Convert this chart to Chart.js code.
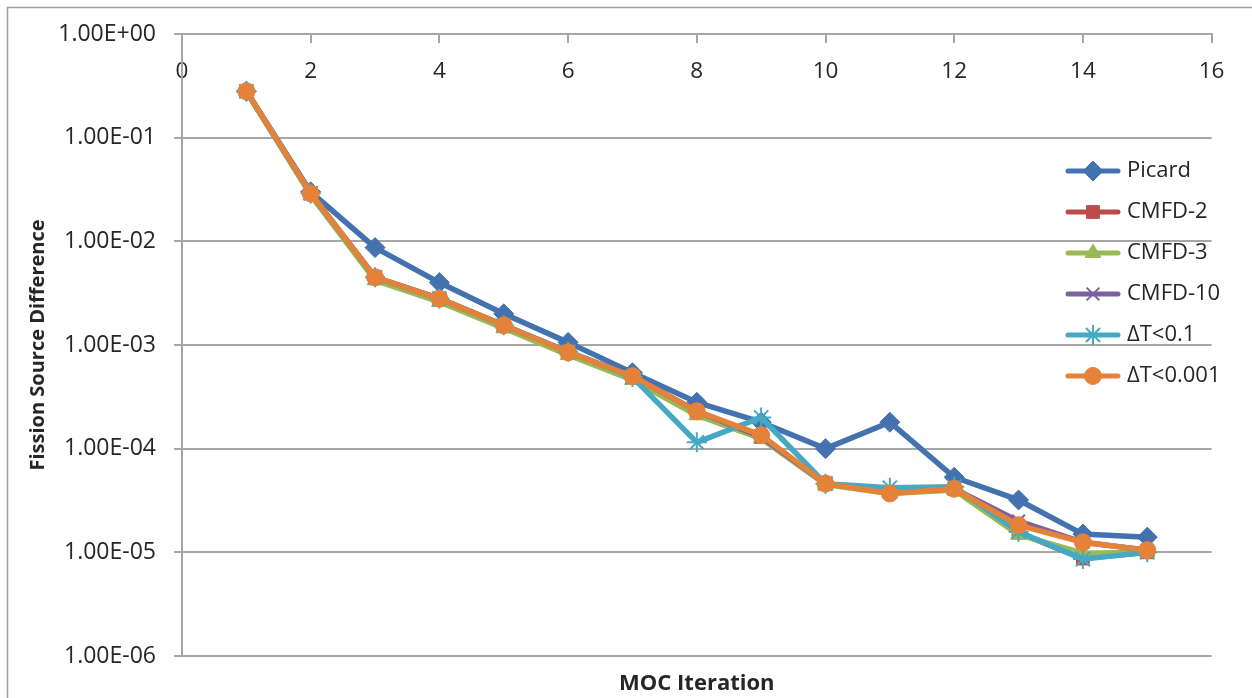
<!DOCTYPE html>
<html>
<head>
<meta charset="utf-8">
<script src="https://cdn.jsdelivr.net/npm/chart.js@4.4.1/dist/chart.umd.min.js"></script>
<style>
  html, body { margin: 0; padding: 0; background: #ffffff; }
  canvas { display: block; }
</style>
</head>
<body>
<canvas id="chart" width="1252" height="698"></canvas>
<script>
// MOC iteration numbers (x values)
const iterations = [1, 2, 3, 4, 5, 6, 7, 8, 9, 10, 11, 12, 13, 14, 15];

// Fission source difference per iteration, one array per method
const picard   = [0.28, 0.030, 0.0087, 0.0040, 0.0020, 0.00106, 0.00054, 0.00028, 0.00018, 0.00010, 0.00018, 5.3e-5, 3.2e-5, 1.5e-5, 1.4e-5];
const cmfd2    = [0.28, 0.029, 0.0045, 0.0028, 0.00155, 0.00085, 0.00049, 0.00022, 0.00013, 4.6e-5, 3.8e-5, 4.1e-5, 1.55e-5, 8.7e-6, 1.0e-5];
const cmfd3    = [0.28, 0.028, 0.0042, 0.0026, 0.00145, 0.00080, 0.00046, 0.00021, 0.000125, 4.5e-5, 3.7e-5, 4.0e-5, 1.48e-5, 9.8e-6, 1.0e-5];
const cmfd10   = [0.28, 0.029, 0.0045, 0.0028, 0.00155, 0.00086, 0.00050, 0.00023, 0.00013, 4.6e-5, 3.8e-5, 4.1e-5, 2.0e-5, 1.25e-5, 1.05e-5];
const dt01     = [0.28, 0.029, 0.0045, 0.0028, 0.00155, 0.00086, 0.00049, 0.000115, 0.00020, 4.6e-5, 4.2e-5, 4.3e-5, 1.58e-5, 8.6e-6, 1.0e-5];
const dt0001   = [0.28, 0.029, 0.0045, 0.0028, 0.00155, 0.00085, 0.00050, 0.00023, 0.000135, 4.6e-5, 3.7e-5, 4.1e-5, 1.83e-5, 1.25e-5, 1.05e-5];

const seriesNames  = ['Picard', 'CMFD-2', 'CMFD-3', 'CMFD-10', 'ΔT<0.1', 'ΔT<0.001'];
const seriesValues = [picard, cmfd2, cmfd3, cmfd10, dt01, dt0001];

// Axis ticks
const yTickValues = [1, 1e-1, 1e-2, 1e-3, 1e-4, 1e-5, 1e-6];
const xMin = 0, xMax = 16, xStep = 2;

// Series appearance
const seriesColors = ['#4472AE', '#BE4B48', '#98B954', '#7D60A0', '#46A9C4', '#E5823A'];
const seriesMarkers = [
  { pointStyle: 'rectRot',  radius: 10, borderWidth: 1 },
  { pointStyle: 'rect',     radius: 9,  borderWidth: 1 },
  { pointStyle: 'triangle', radius: 9,  borderWidth: 1 },
  { pointStyle: 'crossRot', radius: 9,  borderWidth: 2 },
  { pointStyle: 'star',     radius: 10, borderWidth: 2 },
  { pointStyle: 'circle',   radius: 8.5, borderWidth: 1 }
];

const gridColor = '#a6a6a6';
const textColor = '#262626';
Chart.defaults.font.family = "'Open Sans', 'Liberation Sans', sans-serif";

function sciLabel(v) {
  const e = Math.round(Math.log10(v));
  const m = v / Math.pow(10, e);
  return m.toFixed(2) + 'E' + (e < 0 ? '-' : '+') + String(Math.abs(e)).padStart(2, '0');
}

// Legend icons: a short line with the series marker in the middle
function makeLegendIcon(color, marker) {
  const c = document.createElement('canvas');
  c.width = 56; c.height = 24;
  const g = c.getContext('2d');
  g.strokeStyle = color; g.fillStyle = color;
  g.lineWidth = 5; g.lineCap = 'round';
  g.beginPath(); g.moveTo(3, 12); g.lineTo(53, 12); g.stroke();
  g.lineWidth = marker.borderWidth;
  g.lineCap = 'butt';
  Chart.helpers.drawPoint(g, { pointStyle: marker.pointStyle, radius: marker.radius, rotation: 0, borderWidth: marker.borderWidth }, 28, 12);
  return c;
}
const legendIcons = seriesColors.map((c, i) => makeLegendIcon(c, seriesMarkers[i]));

const datasets = seriesNames.map((name, i) => ({
  label: name,
  data: iterations.map((x, k) => ({ x: x, y: seriesValues[i][k] })),
  borderColor: seriesColors[i],
  backgroundColor: seriesColors[i],
  borderWidth: 5.5,
  borderJoinStyle: 'round',
  borderCapStyle: 'round',
  tension: 0,
  pointStyle: seriesMarkers[i].pointStyle,
  pointRadius: seriesMarkers[i].radius,
  pointBorderWidth: seriesMarkers[i].borderWidth,
  pointBackgroundColor: seriesColors[i],
  pointBorderColor: seriesColors[i],
  order: seriesNames.length - i
}));

// Outer frame of the chart
const framePlugin = {
  id: 'frame',
  beforeDraw(chart) {
    const ctx = chart.ctx;
    ctx.save();
    ctx.fillStyle = '#ffffff';
    ctx.fillRect(0, 0, chart.width, chart.height);
    ctx.strokeStyle = '#a0a0a0';
    ctx.lineWidth = 1.5;
    ctx.strokeRect(7.5, 7.5, chart.width + 10, chart.height + 10);
    ctx.restore();
  }
};

// Place the legend box at the right-hand side inside the plot area
const legendPlacement = {
  id: 'legendPlacement',
  afterUpdate(chart) {
    const lg = chart.legend;
    if (!lg) return;
    lg.left = 1051; lg.right = 1252;
    lg.top = 141; lg.bottom = 440;
    lg.width = lg.right - lg.left;
    lg.height = lg.bottom - lg.top;
  }
};

new Chart(document.getElementById('chart'), {
  type: 'line',
  data: { datasets: datasets },
  plugins: [framePlugin, legendPlacement],
  options: {
    responsive: false,
    animation: false,
    devicePixelRatio: 1,
    layout: { padding: { left: 0, top: 34, right: 40.4, bottom: 0 } },
    scales: {
      x: {
        type: 'linear',
        // the category axis crosses the value axis at its maximum (1.00E+00)
        position: { y: 1 },
        min: xMin, max: xMax,
        ticks: { stepSize: xStep, padding: 16, color: textColor, font: { size: 22.5 }, maxRotation: 0 },
        grid: { display: true, drawOnChartArea: false, drawTicks: true, tickLength: 8, color: gridColor, lineWidth: 2 },
        border: { display: true, color: gridColor, width: 2 }
      },
      y: {
        type: 'logarithmic',
        min: 1e-6, max: 1,
        afterBuildTicks(scale) { scale.ticks = yTickValues.map(v => ({ value: v })); },
        ticks: { callback: v => sciLabel(v), padding: 18, color: textColor, font: { size: 23 }, autoSkip: false },
        grid: { color: gridColor, lineWidth: 2, tickLength: 8 },
        border: { color: gridColor, width: 2 },
        title: {
          display: true, text: 'Fission Source Difference', color: textColor,
          font: { size: 20, weight: 'bold', lineHeight: 1.2 },
          padding: { top: 26, bottom: 0 }
        },
        afterFit(scale) { scale.width = 182; }
      }
    },
    plugins: {
      tooltip: { enabled: false },
      title: {
        display: true, position: 'bottom', fullSize: false, text: 'MOC Iteration', color: textColor,
        font: { size: 22, weight: 'bold', lineHeight: 28 / 22 },
        padding: { top: 14, bottom: 0 }
      },
      legend: {
        position: 'chartArea',
        align: 'start',
        labels: {
          usePointStyle: true,
          pointStyleWidth: 46,
          padding: 19,
          color: textColor,
          font: { size: 22 },
          generateLabels: chart => chart.data.datasets.map((ds, i) => ({
            text: ds.label,
            pointStyle: legendIcons[i],
            fillStyle: ds.borderColor,
            strokeStyle: ds.borderColor,
            fontColor: textColor,
            lineWidth: 0,
            hidden: false,
            datasetIndex: i
          }))
        }
      }
    }
  }
});
</script>
</body>
</html>
